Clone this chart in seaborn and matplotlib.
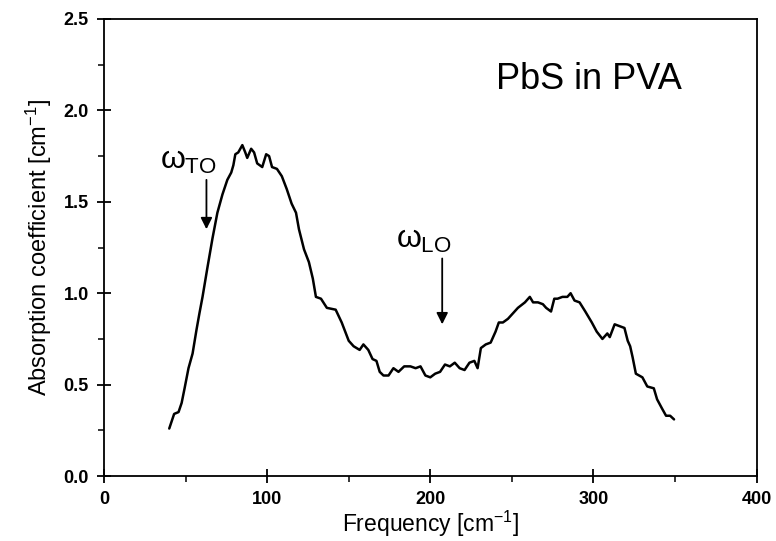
import numpy as np
import pandas as pd
import seaborn as sns
import matplotlib.pyplot as plt
from matplotlib.ticker import MultipleLocator

# Spectrum
freq = [40, 43, 45.7, 47.6, 49.4, 51.8, 54.3, 56.7, 58.5, 60.4, 63.4, 66.5, 69.5,
        72.6, 75.6, 78, 79.3, 80.5, 82.3, 84.8, 86.6, 87.8, 90.2, 92, 93.9, 97,
        99.4, 101.2, 103, 106, 109, 112, 115, 117.7, 119.5, 122.6, 125.6, 128,
        129.9, 133, 136.6, 142, 145.7, 150, 153, 156.7, 159, 162, 164.6, 167, 169,
        171.3, 174.4, 177.4, 180.5, 184, 187.8, 191, 194, 197, 200, 203, 206, 209,
        212, 215, 218, 221, 224, 227, 229, 231, 234, 237, 240, 242, 244.5, 247.6,
        253.7, 258, 261, 263, 266, 269, 271, 274, 276, 278, 281, 284, 286, 288.4,
        291.5, 295, 299, 302, 305.5, 308.5, 310, 313, 319, 321, 322.5, 324, 326,
        330, 333, 337, 339, 342, 344.5, 347, 349.4]
absorption = [0.26, 0.34, 0.35, 0.40, 0.48, 0.59, 0.67, 0.80, 0.89, 0.98, 1.14, 1.30,
              1.44, 1.54, 1.62, 1.66, 1.70, 1.76, 1.77, 1.81, 1.77, 1.74, 1.79, 1.77,
              1.71, 1.69, 1.76, 1.75, 1.69, 1.68, 1.64, 1.57, 1.49, 1.44, 1.35, 1.24,
              1.17, 1.08, 0.98, 0.97, 0.92, 0.91, 0.84, 0.74, 0.71, 0.69, 0.72, 0.69,
              0.64, 0.63, 0.57, 0.55, 0.55, 0.59, 0.57, 0.60, 0.60, 0.59, 0.60, 0.55,
              0.54, 0.56, 0.57, 0.61, 0.60, 0.62, 0.59, 0.58, 0.62, 0.63, 0.59, 0.70,
              0.72, 0.73, 0.79, 0.84, 0.84, 0.86, 0.92, 0.95, 0.98, 0.95, 0.95, 0.94,
              0.92, 0.90, 0.97, 0.97, 0.98, 0.98, 1.00, 0.96, 0.95, 0.90, 0.84, 0.79,
              0.75, 0.78, 0.76, 0.83, 0.81, 0.74, 0.71, 0.65, 0.56, 0.54, 0.49, 0.48,
              0.42, 0.37, 0.33, 0.33, 0.31]

# Phonon markers: label, arrow x, arrow top, arrow tip
phonons = ['TO', 'LO']
phonon_x = [62.8, 207.3]
arrow_top = [1.62, 1.19]
arrow_tip = [1.35, 0.83]

df = pd.DataFrame({'Frequency': freq, 'Absorption': absorption})

sns.set_style('ticks')
plt.rcParams['font.family'] = ['Liberation Sans', 'DejaVu Sans']
plt.rcParams['mathtext.fontset'] = 'custom'
plt.rcParams['mathtext.rm'] = 'Liberation Sans'
plt.rcParams['mathtext.it'] = 'Liberation Sans'
for key in ['text.color', 'axes.labelcolor', 'xtick.color', 'ytick.color', 'axes.edgecolor']:
    plt.rcParams[key] = 'black'

fig = plt.figure(figsize=(7.76, 5.41), dpi=100)
ax = fig.add_axes([0.134, 0.120, 0.841, 0.845])

sns.lineplot(data=df, x='Frequency', y='Absorption', color='black',
             linewidth=1.8, ax=ax)

# arrows and omega labels
for lab, x, top, tip in zip(phonons, phonon_x, arrow_top, arrow_tip):
    ax.annotate('', xy=(x, tip), xytext=(x, top),
                arrowprops=dict(arrowstyle='-|>', color='black', lw=1.3,
                                mutation_scale=17, shrinkA=0, shrinkB=0))
    ax.text(x - 11, top + 0.02, r'$\omega_{\mathrm{' + lab + '}}$',
            ha='center', va='bottom', fontsize=23)

ax.text(240, 2.17, 'PbS in PVA', fontsize=26, ha='left', va='center')

ax.set_xlim(0, 400)
ax.set_ylim(0, 2.5)
ax.xaxis.set_major_locator(MultipleLocator(100))
ax.xaxis.set_minor_locator(MultipleLocator(50))
ax.yaxis.set_major_locator(MultipleLocator(0.5))
ax.yaxis.set_minor_locator(MultipleLocator(0.25))
ax.yaxis.set_major_formatter(plt.FormatStrFormatter('%.1f'))

ax.tick_params(which='major', direction='inout', length=10, width=1.3,
               labelsize=13, pad=6)
ax.tick_params(which='minor', direction='out', length=4, width=1.1)
for lbl in ax.get_xticklabels() + ax.get_yticklabels():
    lbl.set_fontweight('bold')

for side in ['top', 'right', 'left', 'bottom']:
    ax.spines[side].set_visible(True)
    ax.spines[side].set_linewidth(1.3)

ax.set_xlabel(r'Frequency [cm$^{\mathrm{-1}}$]', fontsize=16.5, labelpad=0)
ax.set_ylabel(r'Absorption coefficient [cm$^{\mathrm{-1}}$]', fontsize=17, labelpad=7)

fig.savefig('out.png', dpi=100)
